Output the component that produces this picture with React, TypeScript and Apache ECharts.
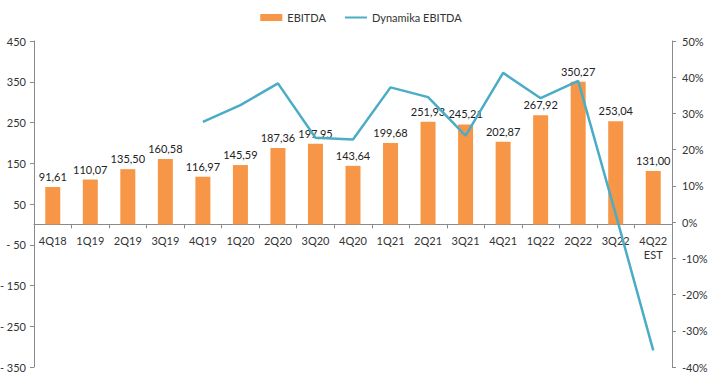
import React, { useEffect, useRef } from "react";
import * as echarts from "echarts";

const categories = ["4Q18", "1Q19", "2Q19", "3Q19", "4Q19", "1Q20", "2Q20", "3Q20", "4Q20", "1Q21", "2Q21", "3Q21", "4Q21", "1Q22", "2Q22", "3Q22", "4Q22\nEST"];
const ebitda = [91.61, 110.07, 135.5, 160.58, 116.97, 145.59, 187.36, 197.95, 143.64, 199.68, 251.93, 245.21, 202.87, 267.92, 350.27, 253.04, 131.0];
const dynamika: (number | null)[] = [null, null, null, null, 27.7, 32.3, 38.3, 23.3, 22.8, 37.2, 34.5, 23.9, 41.2, 34.2, 39.0, 2.2, -35.4];
const leftTicks = { min: -350, max: 450, interval: 100 };
const rightTicks = { min: -40, max: 50, interval: 10 };

const FONT = "Lato, 'Open Sans', sans-serif";
const GRID_TOP = 41;
const GRID_BOTTOM = 18;
const H = 385;

export default function App() {
  const ref = useRef<HTMLDivElement>(null);
  useEffect(() => {
    if (!ref.current) return;
    const chart = echarts.init(ref.current, null, { renderer: "svg" });
    const plotH = H - GRID_TOP - GRID_BOTTOM;
    const zeroFromBottom = (plotH * (0 - leftTicks.min)) / (leftTicks.max - leftTicks.min);
    chart.setOption({
      animation: false,
      textStyle: { fontFamily: FONT },
      legend: {
        top: 7,
        left: "center",
        itemGap: 18,
        itemWidth: 22,
        itemHeight: 7,
        textStyle: { fontSize: 11, color: "#333", fontFamily: FONT },
        data: [
          { name: "EBITDA", icon: "rect" },
          { name: "Dynamika EBITDA", itemStyle: { opacity: 0 } },
        ],
      },
      grid: { left: 34, right: 50, top: GRID_TOP, bottom: GRID_BOTTOM, containLabel: false, outerBoundsMode: "none" },
      xAxis: {
        type: "category",
        data: categories,
        position: "bottom",
        offset: -zeroFromBottom,
        axisLine: { onZero: false, lineStyle: { color: "#8a8a8a" } },
        axisTick: { show: true, length: 4, lineStyle: { color: "#8a8a8a" } },
        axisLabel: { color: "#333", fontSize: 11, margin: 9, interval: 0, lineHeight: 14, fontFamily: FONT },
      },
      yAxis: [
        {
          type: "value",
          min: leftTicks.min,
          max: leftTicks.max,
          interval: leftTicks.interval,
          position: "left",
          axisLine: { show: true, onZero: false, lineStyle: { color: "#8a8a8a" } },
          axisTick: { show: true, length: 4, lineStyle: { color: "#8a8a8a" } },
          splitLine: { show: false },
          axisLabel: {
            color: "#333",
            fontSize: 11,
            margin: 8,
            fontFamily: FONT,
            formatter: (v: number) => (v < 0 ? "- " + Math.abs(v) : String(v)),
          },
        },
        {
          type: "value",
          min: rightTicks.min,
          max: rightTicks.max,
          interval: rightTicks.interval,
          position: "right",
          axisLine: { show: true, onZero: false, lineStyle: { color: "#8a8a8a" } },
          axisTick: { show: true, length: 4, lineStyle: { color: "#8a8a8a" } },
          splitLine: { show: false },
          axisLabel: {
            color: "#333",
            fontSize: 11,
            margin: 10,
            fontFamily: FONT,
            formatter: (v: number) => v + "%",
          },
        },
      ],
      series: [
        {
          name: "EBITDA",
          type: "bar",
          data: ebitda,
          barWidth: 15,
          itemStyle: { color: "#F79646" },
          label: {
            show: true,
            position: "top",
            distance: 5,
            color: "#222",
            fontSize: 11,
            fontFamily: FONT,
            formatter: (p: any) => p.value.toFixed(2).replace(".", ","),
          },
        },
        {
          name: "Dynamika EBITDA",
          type: "line",
          yAxisIndex: 1,
          data: dynamika,
          symbol: "none",
          lineStyle: { color: "#4BACC6", width: 2.5 },
          itemStyle: { color: "#4BACC6" },
          z: 3,
        },
      ],
    });
    return () => chart.dispose();
  }, []);
  return <div ref={ref} style={{ width: 722, height: 385, position: "absolute", left: 0, top: 0, background: "#fff" }} />;
}
